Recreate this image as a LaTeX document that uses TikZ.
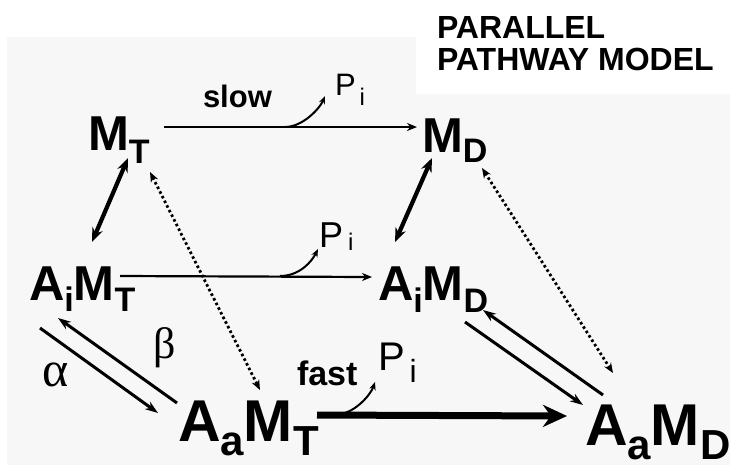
\documentclass[tikz,border=0pt]{standalone}
\usepackage{fontspec}
\setmainfont{Liberation Sans}
\newfontfamily\serifgr{Liberation Serif}
\usetikzlibrary{arrows.meta}
\definecolor{bgg}{RGB}{247,247,247}
\newcommand{\myfs}[2]{{\fontsize{#1}{#1}\selectfont #2}}
\newcommand{\lowsub}[3]{\raisebox{-#1pt}{\fontsize{#2}{#2}\selectfont #3}}
\begin{document}
\begin{tikzpicture}[x=1pt,y=-1pt,
  lbl/.style={inner sep=0pt,outer sep=0pt,anchor=base west,font=\bfseries},
  plbl/.style={inner sep=0pt,outer sep=0pt,anchor=base west,font=\mdseries},
  greek/.style={inner sep=0pt,outer sep=0pt,font=\serifgr},
  thinarrow/.style={line width=2.2pt,-{Stealth[length=10pt,width=8pt]}},
  piarrow/.style={line width=2pt,-{Stealth[length=8pt,width=6.5pt]}},
  dblarrow/.style={line width=4.2pt,{Stealth[length=14pt,width=11pt]}-{Stealth[length=14pt,width=11pt]}},
  dotarrow/.style={line width=2.8pt,dash pattern={on 2.6pt off 2.6pt},{Stealth[length=10pt,width=8pt]}-{Stealth[length=10pt,width=8pt]}},
  eqarrow/.style={line width=3pt,-{Stealth[length=13pt,width=9pt]}},
  fastarrow/.style={line width=7pt,-{Stealth[length=24pt,width=22pt]}}]
\useasboundingbox (0,0) rectangle (730,467);
\fill[bgg] (7,37) rectangle (730,465);
\fill[white] (416,0) rectangle (730,94);

% title
\node[lbl] (t1) at (437,38) {\myfs{32}{PARALLEL}};
\node[lbl] (t2) at (437,70) {\myfs{32}{PATHWAY MODEL}};

% species
\node[lbl] (MT) at (88,150) {\myfs{49}{M}\lowsub{13}{34}{T}};
\node[lbl] (MD) at (422,152) {\myfs{49}{M}\lowsub{10}{34}{D}};
\node[lbl] (AiMT) at (29,300) {\myfs{49}{A}\lowsub{11}{34}{i}\myfs{49}{M}\lowsub{11}{34}{T}};
\node[lbl] (AiMD) at (378,300) {\myfs{49}{A}\lowsub{12}{34}{i}\myfs{49}{M}\lowsub{12}{34}{D}};
\node[lbl] (AaMT) at (178,441) {\myfs{59}{A}\lowsub{14}{42}{a}\myfs{59}{M}\lowsub{14}{42}{T}};
\node[lbl] (AaMD) at (585,445) {\myfs{59}{A}\lowsub{14}{42}{a}\myfs{59}{M}\lowsub{14}{42}{D}};

% labels
\node[lbl] (slow) at (203,107) {\myfs{31}{slow}};
\node[lbl] (fast) at (297,385) {\myfs{34}{fast}};
\node[plbl] (PiT) at (335,95) {\myfs{31}{P}\kern4pt\lowsub{10}{24}{i}};
\node[plbl] (PiM) at (319,247) {\myfs{36}{P}\kern5pt\lowsub{3}{24}{i}};
\node[plbl] (PiB) at (378,370) {\myfs{40}{P}\kern5pt\lowsub{12}{32}{i}};
\node[greek] (alpha) at (56,375) {\myfs{50}{α}};
\node[greek] (beta) at (165,348) {\myfs{44}{β}};

% hydrolysis steps
\draw[thinarrow] ([shift={(76,-23)}]MT.base west) -- ([shift={(-5,-25)}]MD.base west);
\draw[thinarrow] ([shift={(91,-24)}]AiMT.base west) -- ([shift={(-6,-23)}]AiMD.base west);
\draw[fastarrow] ([shift={(139,-26)}]AaMT.base west) -- ([shift={(-18,-29)}]AaMD.base west);

% Pi release
\draw[piarrow] ([shift={(197,-23)}]MT.base west) .. controls +(18,0) and +(-5,12) .. ([shift={(-10,1)}]PiT.base west);
\draw[piarrow] ([shift={(251,-24)}]AiMT.base west) .. controls +(20,0) and +(-6,12) .. ([shift={(-1,2)}]PiM.base west);
\draw[piarrow] ([shift={(162,-27)}]AaMT.base west) .. controls +(16,-2) and +(-4,12) .. ([shift={(-3,12)}]PiB.base west);

% binding equilibria
\draw[dblarrow] ([shift={(40,8)}]MT.base west) -- ([shift={(63,-58)}]AiMT.base west);
\draw[dblarrow] ([shift={(10,6)}]MD.base west) -- ([shift={(17,-58)}]AiMD.base west);
\draw[dotarrow] ([shift={(62,22)}]MT.base west) -- ([shift={(82,-51)}]AaMT.base west);
\draw[dotarrow] ([shift={(60,16)}]MD.base west) -- ([shift={(28,-72)}]AaMD.base west);

% isomerisation
\draw[eqarrow] ([shift={(11,28)}]AiMT.base west) -- ([shift={(-20,-28)}]AaMT.base west);
\draw[eqarrow] ([shift={(-1,-38)}]AaMT.base west) -- ([shift={(29,18)}]AiMT.base west);
\draw[eqarrow] ([shift={(87,22)}]AiMD.base west) -- ([shift={(-2,-40)}]AaMD.base west);
\draw[eqarrow] ([shift={(18,-50)}]AaMD.base west) -- ([shift={(105,10)}]AiMD.base west);
\end{tikzpicture}
\end{document}
